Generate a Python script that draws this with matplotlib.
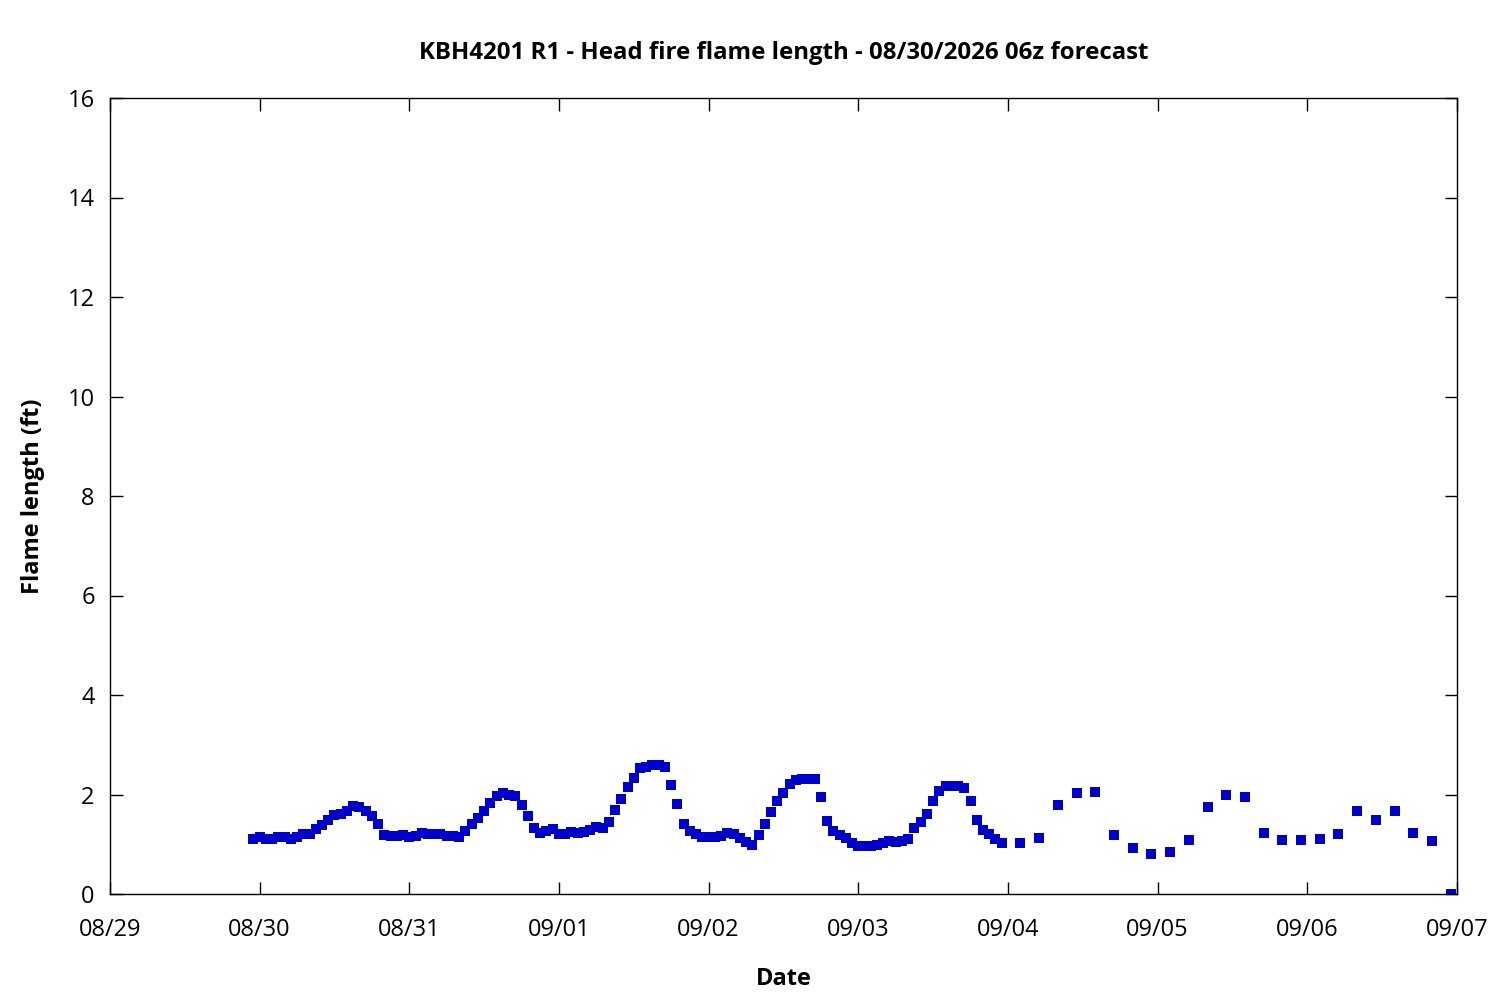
import datetime as dt
import matplotlib
matplotlib.use("Agg")
import matplotlib.pyplot as plt
import matplotlib.dates as mdates

plt.rcParams['font.family'] = ['Open Sans', 'Noto Sans', 'DejaVu Sans']

# hourly forecast, starting 08/29 23:00
hourly_start = dt.datetime(2026, 8, 29, 23)
hourly_vals = [
    1.10, 1.14, 1.11, 1.11, 1.15, 1.14, 1.10, 1.14, 1.20, 1.20,
    1.30, 1.38, 1.48, 1.58, 1.60, 1.66, 1.77, 1.74, 1.66, 1.56,
    1.40, 1.19, 1.16, 1.16, 1.18, 1.14, 1.16, 1.23, 1.20, 1.20,
    1.20, 1.16, 1.16, 1.14, 1.26, 1.40, 1.53, 1.66, 1.83, 1.96,
    2.03, 2.00, 1.96, 1.78, 1.56, 1.32, 1.22, 1.27, 1.30, 1.20,
    1.20, 1.24, 1.22, 1.24, 1.28, 1.34, 1.32, 1.44, 1.68, 1.90,
    2.16, 2.33, 2.53, 2.55, 2.60, 2.60, 2.55, 2.20, 1.80, 1.40,
    1.26, 1.20, 1.14, 1.14, 1.14, 1.16, 1.23, 1.20, 1.12, 1.04,
    0.98, 1.18, 1.40, 1.64, 1.86, 2.04, 2.22, 2.29, 2.31, 2.31,
    2.31, 1.94, 1.46, 1.26, 1.18, 1.12, 1.02, 0.96, 0.96, 0.96,
    0.98, 1.02, 1.06, 1.04, 1.06, 1.10, 1.32, 1.44, 1.60, 1.86,
    2.08, 2.17, 2.17, 2.17, 2.14, 1.86, 1.48, 1.28, 1.20, 1.10,
    1.02,
]

# 3-hourly forecast, starting 09/04 02:00
three_hr_start = dt.datetime(2026, 9, 4, 2)
three_hr_vals = [
    1.02, 1.12, 1.78, 2.04, 2.06, 1.18, 0.92, 0.80, 0.84, 1.08,
    1.74, 1.98, 1.94, 1.22, 1.08, 1.08, 1.10, 1.20, 1.66, 1.48,
    1.66, 1.22, 1.06, 0.00,
]

times = [hourly_start + dt.timedelta(hours=i) for i in range(len(hourly_vals))]
times += [three_hr_start + dt.timedelta(hours=3 * i) for i in range(len(three_hr_vals))]
values = hourly_vals + three_hr_vals

fig = plt.figure(figsize=(15, 10), dpi=100)
ax = fig.add_axes([0.0733, 0.106, 0.898, 0.796])

ax.plot(times, values, linestyle='none', marker='s', markersize=6.5,
        color='#0000c8', markeredgewidth=0)

ax.set_xlim(dt.datetime(2026, 8, 29), dt.datetime(2026, 9, 7))
ax.set_ylim(0, 16)
ax.set_yticks(range(0, 17, 2))
ax.xaxis.set_major_locator(mdates.DayLocator())
ax.xaxis.set_major_formatter(mdates.DateFormatter('%m/%d'))

ax.tick_params(direction='in', length=9, width=1, top=True, right=True,
               labelsize=17, colors='black')
ax.tick_params(axis='x', pad=17)
ax.tick_params(axis='y', pad=11)
for s in ax.spines.values():
    s.set_linewidth(1)

ax.set_title('KBH4201 R1 - Head fire flame length - 08/30/2026 06z forecast',
             fontsize=17.3, fontweight='bold', pad=28)
ax.set_xlabel('Date', fontsize=17, fontweight='bold', labelpad=18)
ax.set_ylabel('Flame length (ft)', fontsize=17, fontweight='bold', labelpad=16)

fig.savefig('out.png', dpi=100)
